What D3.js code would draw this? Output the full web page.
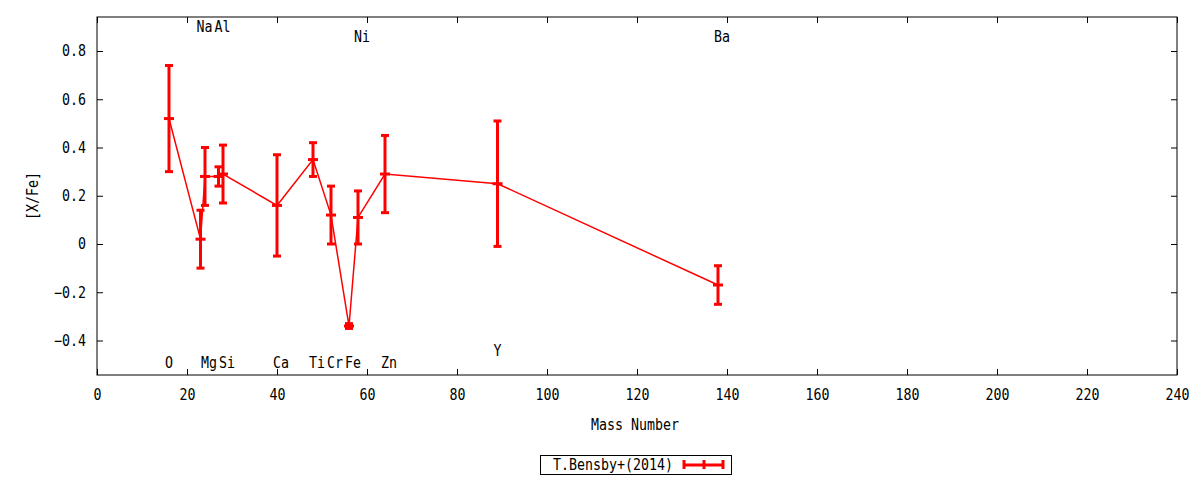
<!DOCTYPE html>
<html>
<head>
<meta charset="utf-8">
<script src="https://cdn.jsdelivr.net/npm/d3@7"></script>
<style>
  body { margin: 0; background: #fff; }
  text { font-family: "DejaVu Sans Mono", monospace; font-size: 15px; fill: #000; }
</style>
</head>
<body>
<script>
// abundance pattern
var elements = ["O", "Na", "Mg", "Al", "Si", "Ca", "Ti", "Cr", "Fe", "Ni", "Zn", "Y", "Ba"];
var mass     = [16, 23, 24, 27, 28, 40, 48, 52, 56, 58, 64, 89, 138];
var xfe      = [0.52, 0.02, 0.28, 0.28, 0.29, 0.16, 0.35, 0.12, -0.34, 0.11, 0.29, 0.25, -0.17];
var err      = [0.22, 0.12, 0.12, 0.04, 0.12, 0.21, 0.07, 0.12, 0.01, 0.11, 0.16, 0.26, 0.08];
// where the element names sit (in [X/Fe] units)
var labelY   = [-0.49, 0.90, -0.49, 0.90, -0.49, -0.49, -0.49, -0.49, -0.49, 0.86, -0.49, -0.44, 0.86];

var xTicks = d3.range(0, 241, 20);
var yTicks = [-0.4, -0.2, 0, 0.2, 0.4, 0.6, 0.8];
var seriesName = "T.Bensby+(2014)";

var width = 1200, height = 480;
// plot frame (window.top is reserved, so use a small object)
var frame = { l: 97, r: 1177, t: 17, b: 375 };

var svg = d3.select("body").append("svg")
    .attr("width", width)
    .attr("height", height);

var x = d3.scaleLinear().domain([0, 240]).range([frame.l, frame.r]);
var y = d3.scaleLinear().domain([-0.543, 0.941]).range([frame.b, frame.t]);

// ticks on all four sides, pointing in
var tick = 6;
svg.append("g").attr("transform", "translate(0," + frame.b + ")")
    .call(d3.axisBottom(x).tickValues(xTicks).tickSize(-tick).tickPadding(14).tickFormat(d3.format("d")))
    .call(g => g.select(".domain").remove());
svg.append("g").attr("transform", "translate(0," + frame.t + ")")
    .call(d3.axisTop(x).tickValues(xTicks).tickSize(-tick).tickFormat(""))
    .call(g => g.select(".domain").remove());
svg.append("g").attr("transform", "translate(" + frame.l + ",0)")
    .call(d3.axisLeft(y).tickValues(yTicks).tickSize(-tick).tickPadding(11).tickFormat(d => d === 0 ? "0" : d3.format(".1f")(d)))
    .call(g => g.select(".domain").remove());
svg.append("g").attr("transform", "translate(" + frame.r + ",0)")
    .call(d3.axisRight(y).tickValues(yTicks).tickSize(-tick).tickFormat(""))
    .call(g => g.select(".domain").remove());

svg.selectAll(".tick text").style("font-family", "DejaVu Sans Mono").style("font-size", "15px").attr("fill", "#000");
svg.selectAll(".tick line").attr("stroke", "#000");

svg.append("rect")
    .attr("x", frame.l).attr("y", frame.t)
    .attr("width", frame.r - frame.l).attr("height", frame.b - frame.t)
    .attr("fill", "none").attr("stroke", "#000").attr("stroke-width", 1);

// axis titles
svg.append("text").attr("x", (frame.l + frame.r) / 2 - 2).attr("y", 430)
    .attr("text-anchor", "middle").text("Mass Number");
svg.append("text").attr("transform", "translate(38," + ((frame.t + frame.b) / 2) + ") rotate(-90)")
    .attr("text-anchor", "middle").text("[X/Fe]");

var red = "#ff0000";
var pts = mass.map((m, i) => ({ m: m, v: xfe[i], e: err[i] }));

svg.append("path")
    .datum(pts)
    .attr("fill", "none").attr("stroke", red).attr("stroke-width", 1.5)
    .attr("d", d3.line().x(d => x(d.m)).y(d => y(d.v)));

var bars = svg.append("g").attr("stroke", red).attr("stroke-width", 3);
pts.forEach(function (d) {
    var cx = x(d.m);
    bars.append("line").attr("x1", cx).attr("x2", cx).attr("y1", y(d.v + d.e)).attr("y2", y(d.v - d.e));
    bars.append("line").attr("x1", cx - 4).attr("x2", cx + 4).attr("y1", y(d.v + d.e)).attr("y2", y(d.v + d.e));
    bars.append("line").attr("x1", cx - 4).attr("x2", cx + 4).attr("y1", y(d.v - d.e)).attr("y2", y(d.v - d.e));
    bars.append("line").attr("x1", cx - 5).attr("x2", cx + 5).attr("y1", y(d.v)).attr("y2", y(d.v));
});

// element names
svg.selectAll(".el").data(elements).enter().append("text")
    .attr("class", "el")
    .attr("x", (d, i) => x(mass[i]) - 4)
    .attr("y", (d, i) => y(labelY[i]) + 5.5)
    .text(d => d);

// legend
var lg = svg.append("g");
lg.append("rect").attr("x", 540.5).attr("y", 455.5).attr("width", 191).attr("height", 19)
    .attr("fill", "#fff").attr("stroke", "#000");
lg.append("text").attr("x", 673).attr("y", 470).attr("text-anchor", "end").text(seriesName);
lg.append("line").attr("x1", 684).attr("x2", 723).attr("y1", 465).attr("y2", 465)
    .attr("stroke", red).attr("stroke-width", 3);
[684, 704, 723].forEach(function (px) {
    lg.append("line").attr("x1", px).attr("x2", px).attr("y1", 460).attr("y2", 469)
        .attr("stroke", red).attr("stroke-width", 3);
});

// the gnuplot font is narrow and tall: squeeze every label to 8px per character
svg.selectAll("text").each(function () {
    var t = d3.select(this).text();
    if (t.length) d3.select(this).attr("textLength", t.length * 8).attr("lengthAdjust", "spacingAndGlyphs");
});
</script>
</body>
</html>
